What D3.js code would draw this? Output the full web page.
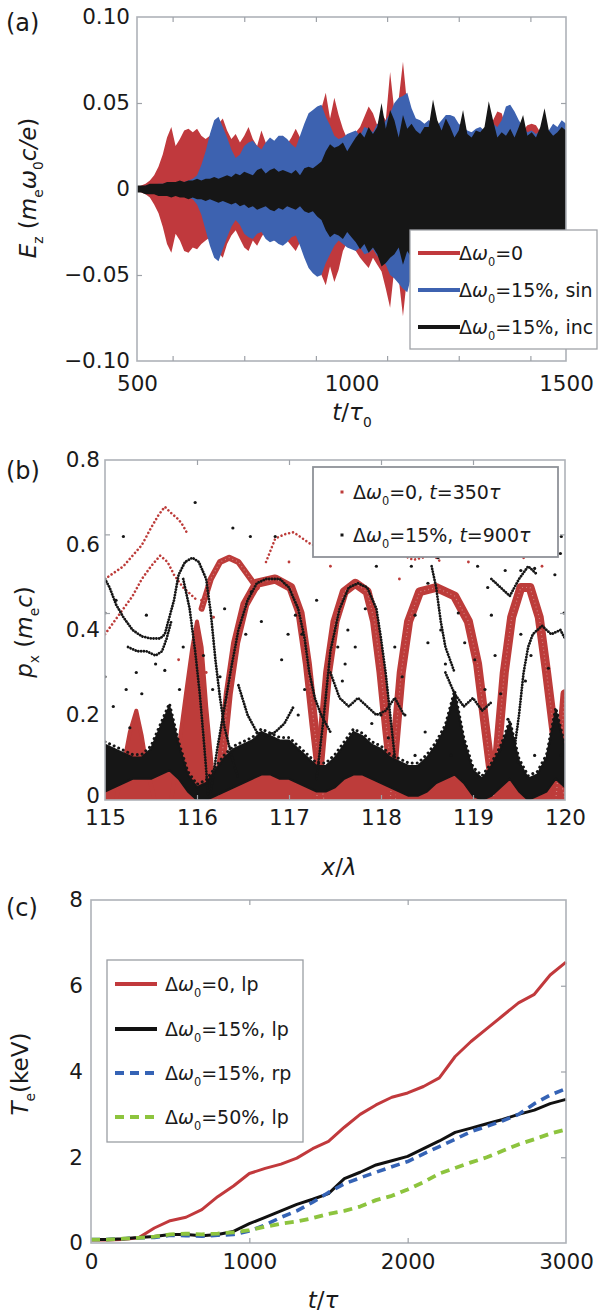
<!DOCTYPE html>
<html><head><meta charset="utf-8">
<script src="https://cdn.jsdelivr.net/npm/d3@7"></script>
<style>
body{margin:0;background:#fff;}
svg{display:block;font-family:"DejaVu Sans",sans-serif;}
</style></head><body>
<svg id="chart" width="601" height="1312"></svg>
<script>
// ======================= DATA =======================
// ---- Panel (a): E_z envelopes, sampled every 10 tau0 from 500 to 1500 ----
const tA = d3.range(500, 1501, 10);
const redUp = [
.001,.002,.003,.005,.008,.013,.020,.030,.036,.025,
.029,.034,.035,.033,.035,.031,.029,.031,.034,.038,
.041,.034,.029,.032,.027,.031,.036,.029,.025,.034,
.027,.022,.026,.029,.031,.026,.030,.035,.030,.034,
.037,.039,.043,.047,.056,.041,.053,.043,.035,.029,
.031,.033,.036,.042,.048,.044,.037,.044,.040,.068,
.045,.052,.074,.048,.040,.035,.034,.037,.040,.034,
.032,.036,.031,.030,.034,.032,.028,.031,.033,.031,
.030,.032,.036,.040,.045,.044,.036,.032,.034,.032,
.034,.037,.038,.037,.033,.030,.032,.030,.028,.030,
.029];
const redLo = [
-.001,-.002,-.003,-.005,-.009,-.014,-.022,-.032,-.037,-.026,
-.030,-.036,-.037,-.034,-.035,-.032,-.030,-.028,-.033,-.037,
-.040,-.032,-.027,-.024,-.029,-.034,-.036,-.030,-.033,-.028,
-.024,-.027,-.030,-.031,-.027,-.030,-.033,-.036,-.031,-.035,
-.038,-.041,-.044,-.050,-.056,-.045,-.054,-.047,-.036,-.031,
-.033,-.036,-.040,-.043,-.046,-.040,-.044,-.048,-.058,-.069,
-.046,-.052,-.074,-.050,-.042,-.036,-.034,-.036,-.038,-.033,
-.031,-.034,-.032,-.030,-.033,-.031,-.029,-.032,-.030,-.031,
-.033,-.030,-.032,-.034,-.036,-.033,-.031,-.033,-.035,-.032,
-.030,-.033,-.035,-.032,-.030,-.032,-.035,-.031,-.029,-.031,
-.030];
const blueUp = [
.001,.001,.002,.002,.002,.003,.003,.003,.003,.003,
.004,.004,.005,.006,.008,.014,.022,.032,.040,.042,
.036,.030,.023,.018,.020,.025,.027,.028,.025,.023,
.027,.030,.028,.031,.031,.029,.026,.024,.031,.038,
.044,.046,.048,.049,.042,.037,.031,.029,.030,.032,
.033,.034,.031,.036,.035,.033,.038,.036,.040,.044,
.050,.053,.054,.056,.047,.041,.040,.038,.040,.039,
.037,.040,.043,.043,.042,.038,.036,.034,.033,.035,
.036,.034,.033,.038,.036,.040,.048,.049,.045,.040,
.036,.033,.034,.032,.034,.036,.034,.038,.036,.040,
.038];
const blueLo = [
-.001,-.001,-.002,-.002,-.002,-.003,-.003,-.003,-.003,-.003,
-.004,-.004,-.005,-.006,-.009,-.015,-.024,-.033,-.040,-.042,
-.035,-.028,-.022,-.018,-.021,-.026,-.028,-.029,-.026,-.025,
-.029,-.031,-.030,-.032,-.033,-.031,-.028,-.027,-.033,-.040,
-.046,-.049,-.051,-.050,-.043,-.038,-.033,-.030,-.032,-.034,
-.035,-.036,-.034,-.038,-.037,-.035,-.039,-.041,-.044,-.050,
-.052,-.055,-.058,-.060,-.050,-.044,-.041,-.039,-.041,-.040,
-.038,-.040,-.042,-.041,-.039,-.037,-.035,-.034,-.036,-.035,
-.034,-.036,-.038,-.036,-.035,-.037,-.040,-.038,-.036,-.035,
-.034,-.036,-.035,-.033,-.035,-.036,-.034,-.036,-.035,-.037,
-.036];
const blackUp = [
.002,.002,.002,.003,.003,.003,.003,.004,.004,.004,
.005,.004,.005,.005,.006,.005,.006,.006,.007,.006,
.007,.008,.007,.009,.008,.010,.009,.008,.011,.012,
.009,.011,.012,.010,.011,.010,.009,.011,.008,.012,
.013,.012,.014,.016,.022,.026,.024,.025,.027,.022,
.026,.030,.033,.030,.036,.032,.036,.050,.035,.046,
.040,.030,.043,.035,.038,.034,.032,.036,.036,.052,
.040,.034,.041,.036,.030,.034,.046,.032,.030,.034,
.033,.036,.051,.040,.030,.033,.031,.035,.030,.036,
.043,.031,.033,.030,.036,.047,.034,.031,.033,.036,
.034];
const blackLo = [
-.002,-.002,-.003,-.003,-.003,-.004,-.004,-.004,-.005,-.004,
-.005,-.005,-.006,-.005,-.006,-.006,-.007,-.006,-.007,-.008,
-.007,-.008,-.009,-.008,-.010,-.009,-.011,-.010,-.012,-.011,
-.010,-.012,-.013,-.011,-.012,-.010,-.011,-.012,-.010,-.013,
-.014,-.013,-.016,-.018,-.024,-.028,-.026,-.027,-.029,-.025,
-.028,-.031,-.035,-.032,-.037,-.034,-.038,-.045,-.043,-.040,
-.038,-.034,-.044,-.036,-.040,-.036,-.034,-.038,-.033,-.046,
-.040,-.036,-.042,-.038,-.032,-.036,-.044,-.034,-.032,-.036,
-.035,-.038,-.046,-.040,-.033,-.035,-.034,-.037,-.032,-.038,
-.042,-.034,-.035,-.032,-.038,-.044,-.036,-.033,-.035,-.037,
-.035];
const aXLabels = [500, 1000, 1500];
const aXTicks = [583, 750, 917, 1083, 1250, 1417];
const aYLabels = [-0.1, -0.05, 0, 0.05, 0.1];
const aYTicks = [-0.05, 0.05];
const aLegend = ["=0", "=15%, sin", "=15%, inc"];

// ---- Panel (b): phase space p_x vs x ----
const bandX = d3.range(0, 51).map(i => 115 + i / 10);
const blackBandTop = [
.13,.12,.11,.10,.10,.12,.17,.22,.13,.06,
.03,.04,.07,.10,.12,.13,.14,.16,.15,.14,
.14,.12,.10,.08,.08,.10,.13,.16,.15,.13,
.12,.10,.09,.08,.08,.10,.13,.17,.25,.14,
.07,.05,.08,.12,.18,.09,.05,.06,.10,.21,
.12];
const blackBandBot = [
.02,.03,.04,.05,.05,.05,.06,.07,.05,.02,
.00,.00,.01,.02,.03,.04,.05,.06,.06,.05,
.05,.04,.03,.02,.02,.03,.05,.06,.06,.05,
.04,.03,.02,.01,.01,.02,.04,.05,.06,.04,
.01,.00,.01,.03,.05,.02,.00,.01,.02,.05,
.03];
const redBandTop = [
.04,.05,.06,.07,.07,.07,.08,.09,.07,.05,
.04,.05,.06,.06,.05,.06,.07,.08,.08,.07,
.07,.06,.06,.06,.05,.05,.07,.08,.08,.07,
.06,.05,.06,.05,.04,.05,.06,.07,.08,.06,
.05,.05,.06,.06,.07,.04,.05,.06,.05,.07,
.05];
const redTriangles = [
  [[115.12,0],[115.2,.08],[115.27,.16],[115.34,.21],[115.4,.15],[115.46,.07],[115.54,0]],
  [[115.72,0],[115.8,.12],[115.88,.25],[115.95,.36],[116.0,.42],[116.05,.36],[116.1,.22],[116.16,.08],[116.22,0]]
];
const redArches = [
  [[116.05,.45],[116.15,.52],[116.25,.56],[116.35,.57],[116.45,.56],[116.55,.53],[116.65,.5]],
  [[116.22,0],[116.28,.12],[116.34,.25],[116.42,.37],[116.52,.46],[116.65,.51],[116.85,.52],[117.02,.5],[117.12,.44],[117.2,.32],[117.27,.18],[117.34,.05],[117.38,0]],
  [[117.3,0],[117.36,.15],[117.42,.3],[117.5,.42],[117.6,.49],[117.72,.51],[117.85,.49],[117.93,.42],[118.0,.3],[118.06,.17],[118.12,.05],[118.16,0]],
  [[118.1,0],[118.16,.15],[118.22,.3],[118.3,.42],[118.42,.49],[118.6,.5],[118.8,.48],[118.95,.42],[119.05,.32],[119.13,.18],[119.2,.06],[119.25,0]],
  [[119.22,0],[119.28,.15],[119.34,.3],[119.42,.43],[119.52,.5],[119.62,.5],[119.72,.43],[119.8,.3],[119.88,.16],[119.95,.05],[120.0,0]],
  [[119.9,0],[119.95,.12],[120.0,.25]]
];
const redSparse = [
  [[115.0,.52],[115.1,.535],[115.2,.55],[115.3,.575],[115.4,.6],[115.5,.64],[115.58,.67],[115.65,.69],[115.72,.675],[115.8,.66],[115.85,.645],[115.9,.625]],
  [[115.0,.39],[115.1,.42],[115.2,.45],[115.3,.48],[115.4,.52],[115.5,.55],[115.6,.575],[115.68,.56],[115.75,.53],[115.85,.5],[115.95,.48],[116.0,.47]],
  [[116.75,.56],[116.85,.615],[116.95,.625],[117.05,.63],[117.15,.615],[117.25,.6],[117.35,.6],[117.45,.615],[117.55,.62],[117.65,.6]],
  [[118.25,.575],[118.35,.565],[118.45,.57],[118.55,.58],[118.65,.56]]
];
const redDots = [[116.05,.47],[116.18,.43],[115.8,.33],[116.1,.3],[117.45,.55],[119.2,.58],[119.1,.6],[118.95,.56],[119.75,.55],[119.55,.57],[118.2,.52],[117.0,.56]];
const blackCurves = [
  [[115.0,.52],[115.05,.5],[115.12,.46],[115.2,.43],[115.3,.4],[115.4,.385],[115.5,.38],[115.6,.38],[115.65,.39],[115.7,.43],[115.75,.47],[115.8,.53],[115.87,.56],[115.95,.57],[116.02,.56],[116.1,.52],[116.15,.44],[116.2,.33],[116.25,.24],[116.3,.17],[116.38,.1],[116.45,.05]],
  [[115.25,.36],[115.35,.35],[115.45,.35],[115.55,.34],[115.62,.35],[115.67,.38],[115.72,.42]],
  [[115.85,.52],[115.92,.45],[115.98,.35],[116.03,.25],[116.07,.15],[116.1,.07],[116.12,.01]],
  [[116.15,.02],[116.22,.12],[116.3,.22],[116.38,.32],[116.45,.4],[116.55,.47],[116.65,.51],[116.75,.52],[116.9,.52],[117.0,.5],[117.1,.45],[117.17,.38],[117.22,.3],[117.28,.24],[117.35,.2],[117.45,.16]],
  [[116.45,.27],[116.55,.2],[116.65,.16],[116.75,.15],[116.85,.16],[116.95,.18],[117.05,.22]],
  [[117.45,.3],[117.55,.24],[117.65,.22],[117.75,.24],[117.85,.22],[117.95,.2],[118.05,.21],[118.15,.24],[118.25,.2]],
  [[117.3,.05],[117.38,.2],[117.45,.35],[117.55,.45],[117.65,.5],[117.75,.51],[117.85,.5],[117.95,.45],[118.0,.38],[118.05,.3],[118.1,.2],[118.15,.1]],
  [[118.7,.3],[118.8,.25],[118.9,.22],[119.0,.24],[119.1,.21],[119.2,.23]],
  [[119.45,.12],[119.5,.2],[119.55,.3],[119.6,.36],[119.65,.39],[119.75,.41],[119.85,.39],[119.95,.4],[120.0,.38]],
  [[119.2,.52],[119.3,.5],[119.4,.48],[119.5,.52],[119.6,.55],[119.7,.53]],
  [[118.55,.55],[118.6,.5],[118.65,.42],[118.7,.36],[118.8,.3]]
];
const blackDots = [
[115.98,.70],[116.39,.64],[116.58,.62],[115.2,.62],[115.45,.435],[115.65,.305],[115.0,.29],[115.09,.22],[115.23,.26],[115.34,.30],
[115.81,.26],[115.85,.36],[116.07,.34],[116.17,.26],[116.25,.29],[116.53,.39],[116.59,.49],[115.0,.44],[115.12,.47],[115.55,.32],
[115.27,.17],[116.99,.39],[116.92,.33],[117.14,.39],[117.07,.435],[117.83,.45],[117.64,.40],[117.72,.36],[117.61,.32],[117.58,.28],
[118.15,.36],[118.23,.29],[117.9,.18],[118.0,.20],[117.1,.20],[117.17,.26],[118.26,.2],[118.08,.146],[116.7,.42],[117.53,.36],
[118.33,.55],[118.51,.51],[118.62,.57],[119.05,.55],[119.35,.54],[119.52,.54],[119.67,.545],[119.89,.53],[119.96,.62],[119.95,.58],
[118.51,.37],[118.65,.40],[118.91,.37],[119.02,.33],[119.24,.34],[119.13,.26],[119.3,.25],[119.38,.19],[119.57,.28],[119.63,.34],
[119.82,.31],[119.92,.2],[119.96,.105],[118.37,.105],[118.48,.16],[118.7,.32],[118.84,.44],[119.2,.435],[119.49,.09],[119.67,.105],
[118.76,.105],[118.37,.435],[119.16,.50],[119.52,.39],[116.85,.62],[115.4,.25],[116.3,.45],[117.3,.47],[117.95,.55],[119.99,.44]
];
const bXLabels = [115, 116, 117, 118, 119, 120];
const bXTicks = [116, 117, 118, 119];
const bYLabels = [0, 0.2, 0.4, 0.6, 0.8];
const bYTicks = [0.44, 0.625];
const bLegend = ["=0, ", "=15%, "];
const bLegendT = ["350", "900"];

// ---- Panel (c): electron temperature, sampled every 100 tau ----
const tC = d3.range(0, 3001, 100);
const teRed = [.07,.07,.08,.12,.35,.52,.6,.78,1.08,1.33,1.62,1.74,1.84,1.98,2.2,2.37,2.7,3.0,3.22,3.4,3.5,3.65,3.85,4.35,4.7,5.0,5.3,5.6,5.8,6.25,6.55];
const teBlack = [.08,.08,.1,.13,.15,.2,.2,.17,.2,.27,.45,.6,.75,.9,1.02,1.15,1.5,1.65,1.82,1.92,2.02,2.2,2.38,2.58,2.68,2.78,2.88,3.0,3.1,3.25,3.35];
const teBlue = [.08,.08,.1,.12,.13,.18,.17,.16,.18,.2,.28,.42,.6,.75,.95,1.18,1.38,1.52,1.65,1.78,1.9,2.08,2.25,2.42,2.6,2.72,2.85,3.0,3.25,3.45,3.6];
const teGreen = [.08,.08,.1,.12,.15,.2,.22,.2,.22,.25,.3,.38,.45,.5,.58,.68,.75,.85,1.0,1.1,1.25,1.42,1.62,1.75,1.88,2.0,2.15,2.3,2.42,2.55,2.65];
const cXLabels = [0, 1000, 2000, 3000];
const cXTicks = [1000, 2000];
const cYLabels = [0, 2, 4, 6, 8];
const cYTicks = [2, 4, 6];
const cLegend = ["=0, lp", "=15%, lp", "=15%, rp", "=50%, lp"];

// ======================= DRAWING =======================
const svg = d3.select("#chart");
const defs = svg.append("defs");
const FRAME = "#aeb2b8", TICKC = "#9ea2a8", TXT = "#1a1a1a";
const RED = "#c0393d", BLUE = "#3d62b0", BLK = "#161616";
const TICKFS = 21.5, TITLEFS = 23, LEGFS = 19;

function rich(g, x, y, parts, fs, anchor) {
  const t = g.append("text").attr("x", x).attr("y", y)
    .attr("font-size", fs).attr("fill", TXT).attr("text-anchor", anchor || "start");
  let shifted = 0;
  parts.forEach(p => {
    const s = t.append("tspan").text(p.t);
    if (p.i) s.attr("font-style", "italic");
    if (p.sub) {
      const sh = fs * 0.3;
      s.attr("font-size", fs * 0.6).attr("dy", sh - shifted);
      shifted = sh;
    } else if (shifted) {
      s.attr("dy", -shifted); shifted = 0;
    }
  });
  return t;
}
function styleLabels(g, fs) {
  g.select(".domain").remove();
  g.selectAll("text").attr("font-size", fs).attr("fill", TXT).attr("font-family", "DejaVu Sans");
}
function tickMarks(g, axis) {
  g.call(axis);
  g.select(".domain").remove();
  g.selectAll("line").attr("stroke", TICKC).attr("stroke-width", 1.2);
}
function frame(x0, y0, x1, y1) {
  svg.append("rect").attr("x", x0).attr("y", y0).attr("width", x1 - x0).attr("height", y1 - y0)
    .attr("fill", "none").attr("stroke", FRAME).attr("stroke-width", 1.6);
}
function clip(id, x0, y0, x1, y1) {
  defs.append("clipPath").attr("id", id).append("rect")
    .attr("x", x0).attr("y", y0).attr("width", x1 - x0).attr("height", y1 - y0);
  return `url(#${id})`;
}

// ---------- Panel (a) ----------
{
  const L = 137, R = 566, T = 17, B = 361;
  const x = d3.scaleLinear().domain([500, 1500]).range([L, R]);
  const y = d3.scaleLinear().domain([-0.1, 0.1]).range([B, T]);
  const area = (up, lo) => d3.area().x((d, i) => x(tA[i])).y0((d, i) => y(lo[i])).y1(d => y(d))(up);
  const g = svg.append("g").attr("clip-path", clip("clipA", L, T, R, B));
  g.append("path").attr("d", area(redUp, redLo)).attr("fill", RED);
  g.append("path").attr("d", area(blueUp, blueLo)).attr("fill", BLUE);
  g.append("path").attr("d", area(blackUp, blackLo)).attr("fill", BLK);
  frame(L, T, R, B);
  tickMarks(svg.append("g").attr("transform", `translate(0,${B})`), d3.axisBottom(x).tickValues(aXTicks).tickSize(-5).tickFormat(""));
  tickMarks(svg.append("g").attr("transform", `translate(0,${T})`), d3.axisTop(x).tickValues(aXTicks).tickSize(-5).tickFormat(""));
  tickMarks(svg.append("g").attr("transform", `translate(${L},0)`), d3.axisLeft(y).tickValues(aYTicks).tickSize(-5).tickFormat(""));
  tickMarks(svg.append("g").attr("transform", `translate(${R},0)`), d3.axisRight(y).tickValues(aYTicks).tickSize(-5).tickFormat(""));
  const xl = svg.append("g").attr("transform", `translate(0,${B})`)
    .call(d3.axisBottom(x).tickValues(aXLabels).tickSize(0).tickPadding(15).tickFormat(d3.format("d")));
  styleLabels(xl, TICKFS);
  const yl = svg.append("g").attr("transform", `translate(${L},0)`)
    .call(d3.axisLeft(y).tickValues(aYLabels).tickSize(0).tickPadding(7).tickFormat(v => v === 0 ? "0" : d3.format(".2f")(v)));
  styleLabels(yl, TICKFS);
  rich(svg, 352, 420, [{t:"t", i:1}, {t:"/"}, {t:"τ", i:1}, {t:"0", sub:1}], TITLEFS, "middle");
  const yt = svg.append("g").attr("transform", "translate(36,188) rotate(-90)");
  rich(yt, 0, 0, [{t:"E", i:1}, {t:"z", sub:1}, {t:" ("}, {t:"m", i:1}, {t:"e", sub:1}, {t:"ω", i:1}, {t:"0", sub:1}, {t:"c/e", i:1}, {t:")"}], TITLEFS, "middle");
  svg.append("text").attr("x", 6).attr("y", 31).attr("font-size", 24).attr("fill", TXT).text("(a)");
  const lg = svg.append("g");
  lg.append("rect").attr("x", 410).attr("y", 230).attr("width", 187).attr("height", 119)
    .attr("fill", "#fff").attr("stroke", "#a0a3a8").attr("stroke-width", 1.3);
  const cols = [RED, BLUE, BLK], ly = [253, 290, 327];
  aLegend.forEach((s, i) => {
    lg.append("line").attr("x1", 418).attr("x2", 460).attr("y1", ly[i]).attr("y2", ly[i])
      .attr("stroke", cols[i]).attr("stroke-width", 4);
    rich(lg, 459, ly[i] + 7, [{t:"Δ"}, {t:"ω", i:1}, {t:"0", sub:1}, {t:s}], LEGFS);
  });
}

// ---------- Panel (b) ----------
{
  const L = 105, R = 565, T = 460, B = 800;
  const x = d3.scaleLinear().domain([115, 120]).range([L, R]);
  const y = d3.scaleLinear().domain([0, 0.8]).range([B, T]);
  const g = svg.append("g").attr("clip-path", clip("clipB", L, T, R, B));
  const band = (top, bot) => d3.area().x((d, i) => x(bandX[i])).y0((d, i) => y(bot ? bot[i] : 0)).y1(d => y(d))(top);
  const line = d3.line().x(d => x(d[0])).y(d => y(d[1]));
  const RB = "#bd3c3a";
  g.append("path").attr("d", band(redBandTop, null)).attr("fill", RB);
  redTriangles.forEach(p => g.append("path").attr("d", line(p) + "Z").attr("fill", RB)
    .attr("stroke", RB).attr("stroke-width", 4).attr("stroke-linejoin", "round"));
  redArches.forEach((p, i) => {
    g.append("path").attr("d", line(p)).attr("fill", "none")
      .attr("stroke", RB).attr("stroke-width", i === 0 ? 6 : 9).attr("stroke-linecap", "round").attr("stroke-linejoin", "round");
    g.append("path").attr("d", line(p)).attr("fill", "none")
      .attr("stroke", "#fff").attr("stroke-opacity", 0.35).attr("stroke-width", 1.2)
      .attr("stroke-dasharray", "1 3");
  });
  redSparse.forEach(p => g.append("path").attr("d", line(p)).attr("fill", "none")
    .attr("stroke", RB).attr("stroke-width", 2.6).attr("stroke-dasharray", "0.01 4").attr("stroke-linecap", "round"));
  g.selectAll(".rd").data(redDots).join("circle").attr("cx", d => x(d[0])).attr("cy", d => y(d[1])).attr("r", 1.4).attr("fill", RB);
  g.append("path").attr("d", band(blackBandTop, blackBandBot)).attr("fill", BLK)
    .attr("stroke", BLK).attr("stroke-width", 2).attr("stroke-linejoin", "round");
  g.append("path").attr("d", d3.line().x((d, i) => x(bandX[i])).y(d => y(d))(blackBandTop)).attr("fill", "none")
    .attr("stroke", BLK).attr("stroke-width", 3).attr("stroke-dasharray", "0.01 5").attr("stroke-linecap", "round")
    .attr("transform", "translate(0,-3)");
  blackCurves.forEach(p => g.append("path").attr("d", line(p)).attr("fill", "none")
    .attr("stroke", BLK).attr("stroke-width", 2.8).attr("stroke-dasharray", "0.01 2.8").attr("stroke-linecap", "round"));
  g.selectAll(".bd").data(blackDots).join("circle").attr("cx", d => x(d[0])).attr("cy", d => y(d[1])).attr("r", 1.6).attr("fill", BLK);
  frame(L, T, R, B);
  tickMarks(svg.append("g").attr("transform", `translate(0,${B})`), d3.axisBottom(x).tickValues(bXTicks).tickSize(-5).tickFormat(""));
  tickMarks(svg.append("g").attr("transform", `translate(0,${T})`), d3.axisTop(x).tickValues(bXTicks).tickSize(-5).tickFormat(""));
  tickMarks(svg.append("g").attr("transform", `translate(${L},0)`), d3.axisLeft(y).tickValues(bYTicks).tickSize(-5).tickFormat(""));
  tickMarks(svg.append("g").attr("transform", `translate(${R},0)`), d3.axisRight(y).tickValues(bYTicks).tickSize(-5).tickFormat(""));
  const xl = svg.append("g").attr("transform", `translate(0,${B})`)
    .call(d3.axisBottom(x).tickValues(bXLabels).tickSize(0).tickPadding(10).tickFormat(d3.format("d")));
  styleLabels(xl, TICKFS);
  const yl = svg.append("g").attr("transform", `translate(${L},0)`)
    .call(d3.axisLeft(y).tickValues(bYLabels).tickSize(0).tickPadding(5).tickFormat(v => v === 0 ? "0" : d3.format(".1f")(v)));
  styleLabels(yl, TICKFS);
  yl.selectAll("text").filter(d => d === 0).attr("dy", "0.1em");
  rich(svg, 339, 875, [{t:"x", i:1}, {t:"/"}, {t:"λ", i:1}], TITLEFS, "middle");
  const yt = svg.append("g").attr("transform", "translate(32,632) rotate(-90)");
  rich(yt, 0, 0, [{t:"p", i:1}, {t:"x", sub:1}, {t:" ("}, {t:"m", i:1}, {t:"e", sub:1}, {t:"c", i:1}, {t:")"}], TITLEFS, "middle");
  svg.append("text").attr("x", 6).attr("y", 479).attr("font-size", 24).attr("fill", TXT).text("(b)");
  const lg = svg.append("g");
  lg.append("rect").attr("x", 313).attr("y", 467).attr("width", 245).attr("height", 90)
    .attr("fill", "#fff").attr("stroke", "#8e9298").attr("stroke-width", 1.8);
  const cols = [RB, BLK], ly = [492, 535];
  bLegend.forEach((s, i) => {
    lg.append("rect").attr("x", 340.5).attr("y", ly[i] - 1.5).attr("width", 3).attr("height", 3).attr("fill", cols[i]);
    rich(lg, 353, ly[i] + 7, [{t:"Δ"}, {t:"ω", i:1}, {t:"0", sub:1}, {t:s}, {t:"t", i:1}, {t:"=" + bLegendT[i]}, {t:"τ", i:1}], LEGFS);
  });
}

// ---------- Panel (c) ----------
{
  const L = 91, R = 566, T = 900, B = 1243;
  const x = d3.scaleLinear().domain([0, 3000]).range([L, R]);
  const y = d3.scaleLinear().domain([0, 8]).range([B, T]);
  const g = svg.append("g");
  const line = vals => d3.line().x((d, i) => x(tC[i])).y(d => y(d))(vals);
  const series = [
    {v: teRed, c: "#c1393c", dash: null, w: 3},
    {v: teBlack, c: "#111", dash: null, w: 3},
    {v: teBlue, c: "#3563b5", dash: "9 6", w: 3.6},
    {v: teGreen, c: "#8dc43e", dash: "9 6", w: 3.8}
  ];
  series.forEach(s => g.append("path").attr("d", line(s.v)).attr("fill", "none").attr("stroke", s.c)
    .attr("stroke-width", s.w).attr("stroke-dasharray", s.dash).attr("stroke-linejoin", "round"));
  frame(L, T, R, B);
  tickMarks(svg.append("g").attr("transform", `translate(0,${B})`), d3.axisBottom(x).tickValues(cXTicks).tickSize(-5).tickFormat(""));
  tickMarks(svg.append("g").attr("transform", `translate(0,${T})`), d3.axisTop(x).tickValues(cXTicks).tickSize(-5).tickFormat(""));
  tickMarks(svg.append("g").attr("transform", `translate(${R},0)`), d3.axisRight(y).tickValues(cYTicks).tickSize(-5).tickFormat(""));
  const xl = svg.append("g").attr("transform", `translate(0,${B})`)
    .call(d3.axisBottom(x).tickValues(cXLabels).tickSize(0).tickPadding(11).tickFormat(d3.format("d")));
  styleLabels(xl, TICKFS);
  const yl = svg.append("g").attr("transform", `translate(${L},0)`)
    .call(d3.axisLeft(y).tickValues(cYLabels).tickSize(0).tickPadding(8).tickFormat(d3.format("d")));
  styleLabels(yl, TICKFS);
  rich(svg, 323, 1308, [{t:"t", i:1}, {t:"/"}, {t:"τ", i:1}], TITLEFS, "middle");
  const yt = svg.append("g").attr("transform", "translate(28,1074) rotate(-90)");
  rich(yt, 0, 0, [{t:"T", i:1}, {t:"e", sub:1}, {t:"(keV)"}], TITLEFS, "middle");
  svg.append("text").attr("x", 6).attr("y", 916).attr("font-size", 24).attr("fill", TXT).text("(c)");
  const lg = svg.append("g");
  lg.append("rect").attr("x", 107).attr("y", 960).attr("width", 196).attr("height", 182)
    .attr("fill", "#fff").attr("stroke", "#9a9ea4").attr("stroke-width", 1.3);
  const ly = [984, 1029, 1073, 1117];
  cLegend.forEach((s, i) => {
    lg.append("line").attr("x1", 115).attr("x2", 157).attr("y1", ly[i]).attr("y2", ly[i])
      .attr("stroke", series[i].c).attr("stroke-width", 4).attr("stroke-dasharray", series[i].dash);
    rich(lg, 165, ly[i] + 7, [{t:"Δ"}, {t:"ω", i:1}, {t:"0", sub:1}, {t:s}], LEGFS);
  });
}
</script></body></html>
